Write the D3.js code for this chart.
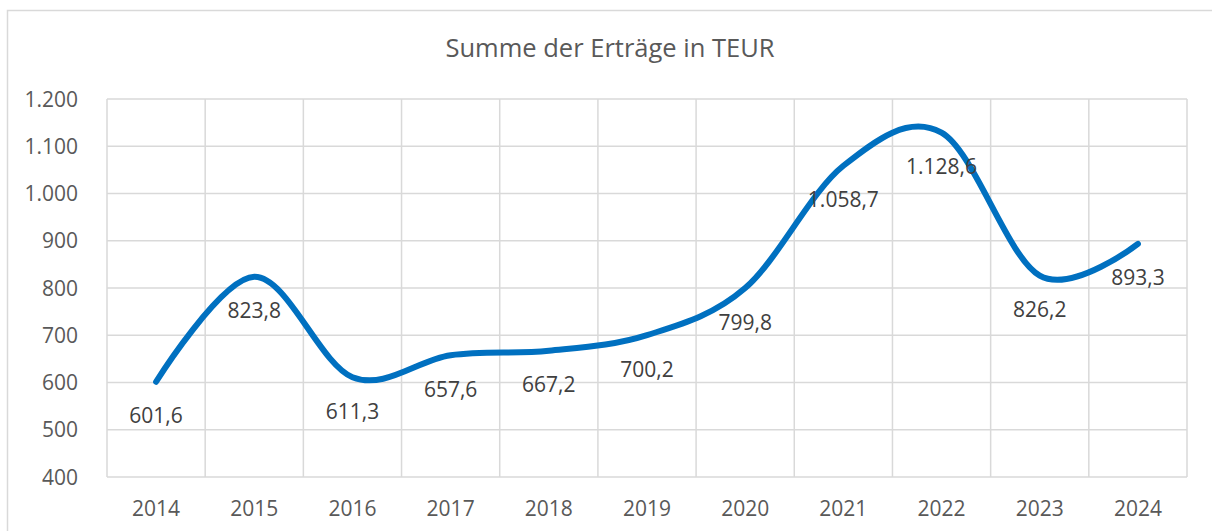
<!DOCTYPE html>
<html><head><meta charset="utf-8">
<script src="https://cdn.jsdelivr.net/npm/d3@7"></script>
<style>html,body{margin:0;padding:0;background:#fff;}svg{display:block;}</style>
</head><body>
<svg id="c" width="1212" height="531"></svg>
<script>
const years = ["2014","2015","2016","2017","2018","2019","2020","2021","2022","2023","2024"];
const values = [601.6, 823.8, 611.3, 657.6, 667.2, 700.2, 799.8, 1058.7, 1128.6, 826.2, 893.3];
const yTicks = [400, 500, 600, 700, 800, 900, 1000, 1100, 1200];
const title = "Summe der Erträge in TEUR";

const loc = d3.formatLocale({decimal: ",", thousands: ".", grouping: [3], currency: ["", "€"]});
const fTick = loc.format(",");
const fVal = loc.format(",.1f");

const svg = d3.select("#c");
const FONT = "'Open Sans', 'Noto Sans', sans-serif";
const L = 107, R = 1187, T = 99, B = 477;

// outer border
svg.append("rect").attr("x", 7.5).attr("y", 10.5).attr("width", 1230).attr("height", 560)
  .attr("fill", "none").attr("stroke", "#d9d9d9").attr("stroke-width", 1.5);

const x = d3.scaleBand().domain(years).range([L, R]).padding(0);
const y = d3.scaleLinear().domain([400, 1200]).range([B, T]);

// gridlines
const g = svg.append("g");
g.selectAll("line.h").data(yTicks).join("line")
  .attr("x1", L).attr("x2", R).attr("y1", d => y(d)).attr("y2", d => y(d))
  .attr("stroke", "#d9d9d9").attr("stroke-width", 1.5);
const bounds = years.map(d => x(d)).concat([x(years[years.length-1]) + x.bandwidth()]);
g.selectAll("line.v").data(bounds).join("line")
  .attr("x1", d => d).attr("x2", d => d).attr("y1", T).attr("y2", B)
  .attr("stroke", "#d9d9d9").attr("stroke-width", 1.5);

// y axis labels
svg.append("g").selectAll("text").data(yTicks).join("text")
  .attr("x", 78).attr("y", d => y(d)).attr("dy", "0.36em")
  .attr("text-anchor", "end").attr("font-family", FONT).attr("font-size", 21)
  .attr("fill", "#595959").text(d => fTick(d));

// x axis labels
svg.append("g").selectAll("text").data(years).join("text")
  .attr("x", d => x(d) + x.bandwidth()/2).attr("y", 516)
  .attr("text-anchor", "middle").attr("font-family", FONT).attr("font-size", 21)
  .attr("fill", "#595959").text(d => d);

// title
svg.append("text").attr("x", 610).attr("y", 57).attr("text-anchor", "middle")
  .attr("font-family", FONT).attr("font-size", 25.5).attr("fill", "#595959").text(title);

// line
const pts = years.map((yr, i) => [x(yr) + x.bandwidth()/2, y(values[i])]);
svg.append("path").attr("d", d3.line().curve(d3.curveCardinal.tension(0))(pts))
  .attr("fill", "none").attr("stroke", "#0070c0").attr("stroke-width", 6)
  .attr("stroke-linecap", "round").attr("stroke-linejoin", "round");

// data labels
svg.append("g").selectAll("text").data(years).join("text")
  .attr("x", (d, i) => pts[i][0]).attr("y", (d, i) => pts[i][1] + 34).attr("dy", "0.36em")
  .attr("text-anchor", "middle").attr("font-family", FONT).attr("font-size", 21)
  .attr("fill", "#404040").text((d, i) => fVal(values[i]));
</script>
</body></html>
